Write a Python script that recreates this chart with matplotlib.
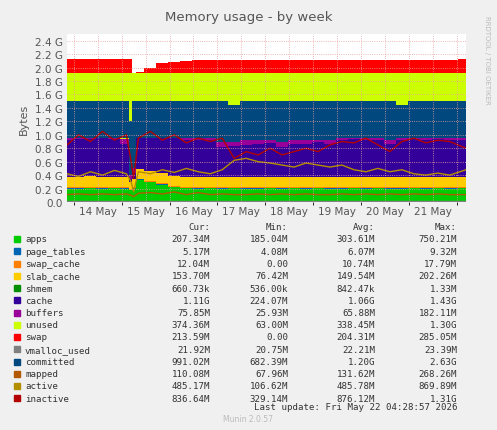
import matplotlib
matplotlib.use("Agg")
import matplotlib.pyplot as plt
import numpy as np

# time in days of May
t = [13.36,13.6,13.85,14.1,14.35,14.6,14.7,14.75,14.85,15.1,15.35,15.6,15.85,16.1,16.35,16.6,16.85,17.1,17.35,17.6,17.85,18.1,18.35,18.6,18.85,19.1,19.35,19.6,19.85,20.1,20.35,20.6,20.85,21.1,21.35,21.69]
apps     = [0.20,0.20,0.21,0.20,0.21,0.20,0.18,0.20,0.33,0.30,0.26,0.22,0.21,0.20,0.21,0.20,0.21,0.20,0.20,0.21,0.20,0.21,0.20,0.21,0.20,0.20,0.21,0.20,0.21,0.20,0.20,0.21,0.20,0.21,0.20,0.21]
page_tables = [0.005]*36
swap_cache  = [0.012]*36
slab_cache  = [0.15,0.15,0.16,0.15,0.15,0.15,0.10,0.12,0.15,0.15,0.15,0.15,0.15,0.15,0.15,0.15,0.15,0.15,0.15,0.15,0.15,0.15,0.15,0.15,0.15,0.15,0.15,0.15,0.15,0.15,0.15,0.15,0.15,0.15,0.15,0.15]
shmem    = [0.001]*36
cache    = [0.55,0.57,0.55,0.58,0.56,0.50,0.05,0.10,0.45,0.52,0.55,0.56,0.54,0.55,0.55,0.45,0.45,0.48,0.50,0.50,0.45,0.48,0.50,0.52,0.50,0.55,0.56,0.55,0.55,0.50,0.55,0.56,0.55,0.56,0.55,0.55]
buffers  = [0.07]*36
unused_top = [1.92]*36
swap_top = [2.13,2.13,2.13,2.13,2.13,2.13,2.13,1.92,1.93,2.00,2.07,2.09,2.10,2.11,2.12,2.12,2.12,2.12,2.12,2.12,2.12,2.12,2.12,2.12,2.12,2.12,2.12,2.12,2.12,2.12,2.12,2.12,2.12,2.12,2.12,2.13]
committed_lo = [0.95,0.95,0.95,0.95,0.95,0.95,0.40,0.50,0.95,0.95,0.95,0.95,0.95,0.95,0.95,0.90,0.90,0.92,0.92,0.92,0.90,0.92,0.92,0.92,0.92,0.95,0.95,0.95,0.95,0.92,0.95,0.95,0.95,0.95,0.95,0.95]
committed_hi = [1.50,1.50,1.50,1.50,1.50,1.50,1.20,1.50,1.50,1.50,1.50,1.50,1.50,1.50,1.50,1.50,1.45,1.50,1.50,1.50,1.50,1.50,1.50,1.50,1.50,1.50,1.50,1.50,1.50,1.50,1.45,1.50,1.50,1.50,1.50,1.50]
vmalloc_used = [0.022]*36
mapped   = [0.11,0.12,0.11,0.12,0.11,0.12,0.10,0.08,0.13,0.14,0.12,0.15,0.11,0.14,0.11,0.12,0.11,0.11,0.12,0.11,0.12,0.11,0.12,0.11,0.11,0.12,0.11,0.12,0.11,0.12,0.11,0.12,0.11,0.12,0.11,0.11]
active   = [0.42,0.38,0.45,0.40,0.47,0.42,0.30,0.15,0.45,0.42,0.48,0.44,0.50,0.45,0.42,0.48,0.62,0.65,0.60,0.58,0.55,0.52,0.58,0.55,0.52,0.55,0.48,0.45,0.50,0.45,0.48,0.42,0.40,0.43,0.40,0.48]
inactive = [0.85,1.00,0.90,1.05,0.92,1.00,0.60,0.35,0.95,1.05,0.92,1.00,0.88,0.95,0.90,0.95,0.65,0.75,0.70,0.80,0.70,0.75,0.80,0.75,0.85,0.90,0.88,0.95,0.85,0.75,0.90,0.95,0.88,0.92,0.90,0.80]

names = ["apps","page_tables","swap_cache","slab_cache","shmem","cache","buffers","unused","swap","vmalloc_used","committed","mapped","active","inactive"]
colors = ["#00CC00","#0066B3","#FF8000","#FFCC00","#008F00","#330099","#990099","#CCFF00","#FF0000","#808080","#00487D","#B35A00","#B38F00","#B30000"]
cur = ["207.34M","5.17M","12.04M","153.70M","660.73k","1.11G","75.85M","374.36M","213.59M","21.92M","991.02M","110.08M","485.17M","836.64M"]
mn  = ["185.04M","4.08M","0.00","76.42M","536.00k","224.07M","25.93M","63.00M","0.00","20.75M","682.39M","67.96M","106.62M","329.14M"]
avg = ["303.61M","6.07M","10.74M","149.54M","842.47k","1.06G","65.88M","338.45M","204.31M","22.21M","1.20G","131.62M","485.78M","876.12M"]
mx  = ["750.21M","9.32M","17.79M","202.26M","1.33M","1.43G","182.11M","1.30G","285.05M","23.39M","2.63G","268.26M","869.89M","1.31G"]

W, H = 497, 431
fig = plt.figure(figsize=(W/100, H/100), dpi=100, facecolor="#F0F0F0")
ax = fig.add_axes([67/W, 1-203/H, (466-67)/W, (203-35)/H])
ax.set_facecolor("white")

tt = np.array(t)
stack = [apps, page_tables, swap_cache, slab_cache, shmem, cache, buffers]
base = np.zeros(len(t))
for vals, c in zip(stack, colors[:7]):
    top = base + np.array(vals)
    ax.fill_between(tt, base, top, color=c, lw=0, step="mid")
    base = top
ax.fill_between(tt, base, unused_top, color=colors[7], lw=0, step="mid")
ax.fill_between(tt, unused_top, swap_top, color=colors[8], lw=0, step="mid")
ax.fill_between(tt, committed_lo, committed_hi, color=colors[10], lw=0, step="mid")
ax.plot(tt, vmalloc_used, color=colors[9], lw=1)
ax.plot(tt, mapped, color=colors[11], lw=1)
ax.plot(tt, active, color=colors[12], lw=1)
ax.plot(tt, inactive, color=colors[13], lw=1)

ax.set_xlim(13.36, 21.69)
ax.set_ylim(0, 2.5)
yt = np.arange(0, 2.41, 0.2)
ax.set_yticks(yt)
ax.set_yticklabels(["0.0"] + ["%.1f G" % v for v in yt[1:]], fontsize=7.5, color="#555555")
ax.set_xticks(range(14, 22))
ax.set_xticklabels(["%d May" % d for d in range(14, 22)], fontsize=7.5, color="#555555")
ax.set_xticks(np.arange(13.5, 21.7, 0.5), minor=True)
ax.grid(True, which="both", color="#E8A0A0", ls=":", lw=0.6)
ax.set_axisbelow(False)
for s in ax.spines.values():
    s.set_visible(False)
ax.tick_params(length=0, pad=3)
ax.set_ylabel("Bytes", fontsize=8, color="#555555")
fig.text(0.5, 1-18/H, "Memory usage - by week", ha="center", va="center", fontsize=9.5, color="#555555")
fig.text(487/W, 1-60/H, "RRDTOOL / TOBI OETIKER", rotation=270, ha="center", va="center", fontsize=5, color="#BBBBBB")

mono = dict(family="DejaVu Sans Mono", fontsize=6.6, color="#333333", va="center")
hy = 228
for xr, lab in [(210, "Cur:"), (288, "Min:"), (375, "Avg:"), (457, "Max:")]:
    fig.text(xr/W, 1-hy/H, lab, ha="right", **mono)
for i, n in enumerate(names):
    y = 240 + i*12.25
    fig.patches.append(plt.Rectangle((14/W, 1-(y+3)/H), 6/W, 6/H, transform=fig.transFigure, color=colors[i]))
    fig.text(25/W, 1-y/H, n, ha="left", **mono)
    for xr, v in [(210, cur[i]), (288, mn[i]), (375, avg[i]), (457, mx[i])]:
        fig.text(xr/W, 1-y/H, v, ha="right", **mono)
fig.text(457/W, 1-408/H, "Last update: Fri May 22 04:28:57 2026", ha="right", **mono)
fig.text(248/W, 1-420/H, "Munin 2.0.57", ha="center", va="center", fontsize=5.5, color="#BBBBBB")
fig.savefig("out.png", dpi=100, facecolor=fig.get_facecolor())
